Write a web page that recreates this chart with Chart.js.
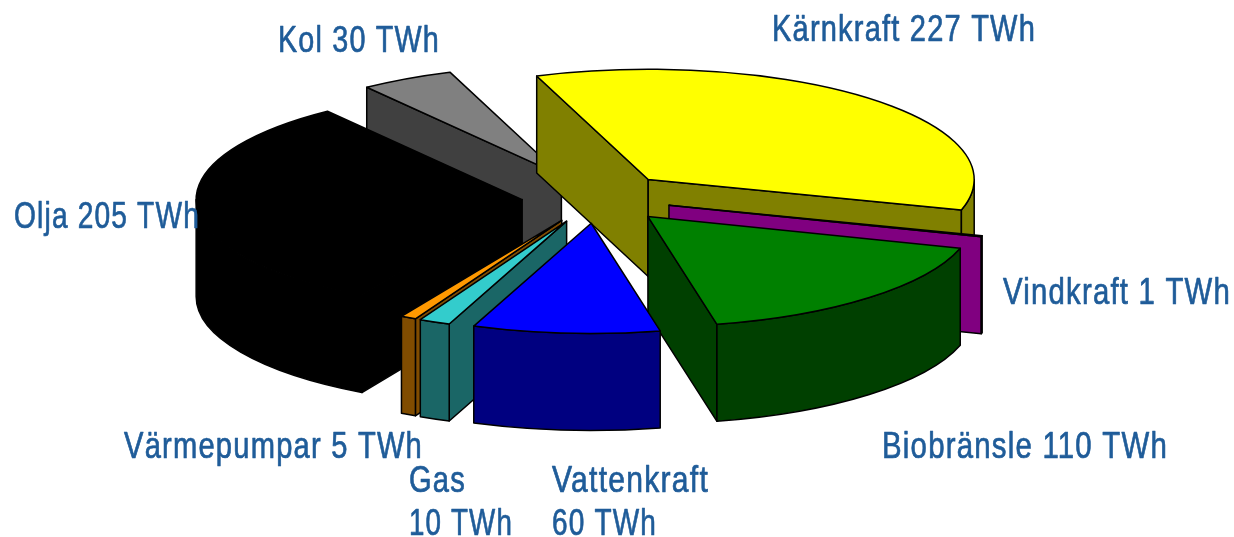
<!DOCTYPE html>
<html><head><meta charset="utf-8">
<style>html,body{margin:0;padding:0;background:#fff;overflow:hidden}canvas{display:block}</style>
<script src="https://cdn.jsdelivr.net/npm/chart.js@4"></script>
</head><body><canvas id="c" width="1234" height="537"></canvas>
<script>
const categories = ['Kärnkraft','Vindkraft','Biobränsle','Vattenkraft','Gas','Värmepumpar','Olja','Kol'];
const values = [227,1,110,60,10,5,205,30];
const unit = 'TWh';
const topColors = ['#FFFF00','#800080','#008000','#0000FF','#33CCCC','#FF9900','#000000','#808080'];
const wallColors = ['#808000','#800080','#004000','#000080','#1A6666','#804C00','#000000','#404040'];

// Layout of the 3-D projection and the labels (not data)
const TILT = 0.338, DEPTH = 97, EXPLODE = 75, RADIUS = 326;
const labelSpots = [
  {x:772,w:264,lines:[41]},{x:1003,w:228,lines:[304]},{x:882,w:286,lines:[458]},
  {x:552,lines:[492,535],ws:[157,105]},{x:409,lines:[492,535],ws:[57,104]},
  {x:124,w:299,lines:[458]},{x:14,w:186,lines:[228]},{x:278,w:162,lines:[52]}
];

function rimPath(ctx, cx, cy, r, from, to, ccw){
  ctx.ellipse(cx, cy, r, r*TILT, 0, from, to, !!ccw);
}
const pie3d = {
  id:'pie3d',
  beforeDatasetsDraw(chart){
    const ctx = chart.ctx;
    const arcs = chart.getDatasetMeta(0).data;
    const items = arcs.map((arc,i)=>{
      const p = arc.getProps(['x','y','startAngle','endAngle','outerRadius'],true);
      const mid = (p.startAngle+p.endAngle)/2;
      return {arc,i,p,ax:p.x+Math.cos(mid)*EXPLODE,ay:p.y+Math.sin(mid)*EXPLODE*TILT};
    }).sort((a,b)=>a.ay-b.ay);
    ctx.lineJoin='round';
    items.forEach(({arc,i,p,ax,ay})=>{
      const r=p.outerRadius, s=p.startAngle, e=p.endAngle;
      const X=a=>ax+r*Math.cos(a), Y=a=>ay+r*Math.sin(a)*TILT;
      ctx.strokeStyle='#000'; ctx.lineWidth=1.5;
      ctx.fillStyle=wallColors[i];
      const face=a=>{
        ctx.beginPath();ctx.moveTo(ax,ay);ctx.lineTo(X(a),Y(a));ctx.lineTo(X(a),Y(a)+DEPTH);ctx.lineTo(ax,ay+DEPTH);ctx.closePath();ctx.fill();ctx.stroke();
      };
      if(Math.cos(s)<0) face(s);
      if(Math.cos(e)>0) face(e);
      const a0=Math.max(s,0), a1=Math.min(e,Math.PI);
      if(a1>a0){
        ctx.beginPath();
        rimPath(ctx,ax,ay,r,a0,a1);
        rimPath(ctx,ax,ay+DEPTH,r,a1,a0,true);
        ctx.closePath();ctx.fill();ctx.stroke();
      }
      // top face: the library's own arc element, flattened and moved out
      ctx.save();
      ctx.translate(ax,ay);ctx.scale(1,TILT);ctx.translate(-p.x,-p.y);
      arc.draw(ctx);
      ctx.restore();
      ctx.beginPath();ctx.moveTo(ax,ay);rimPath(ctx,ax,ay,r,s,e);ctx.closePath();ctx.stroke();
    });
    return false;
  },
  afterDraw(chart){
    const ctx=chart.ctx;
    ctx.save();
    ctx.font='36px "Liberation Sans"';
    ctx.letterSpacing='1.5px';
    ctx.fillStyle='#1F5C99';ctx.strokeStyle='#1F5C99';ctx.lineWidth=0.7;
    ctx.textBaseline='alphabetic';ctx.textAlign='left';
    labelSpots.forEach((l,i)=>{
      const texts=l.lines.length>1?[categories[i],values[i]+' '+unit]:[categories[i]+' '+values[i]+' '+unit];
      texts.forEach((t,j)=>{
        const w=l.ws?l.ws[j]:l.w;
        ctx.fillText(t,l.x,l.lines[j],w);ctx.strokeText(t,l.x,l.lines[j],w);
      });
    });
    ctx.restore();
  }
};
new Chart(document.getElementById('c'),{
  type:'pie',
  data:{labels:categories,datasets:[{data:values,backgroundColor:topColors,borderWidth:0}]},
  options:{
    responsive:false,animation:false,rotation:-20,radius:RADIUS,
    layout:{padding:{right:40,bottom:141}},
    plugins:{legend:{display:false},tooltip:{enabled:false}}
  },
  plugins:[pie3d]
});
</script></body></html>
